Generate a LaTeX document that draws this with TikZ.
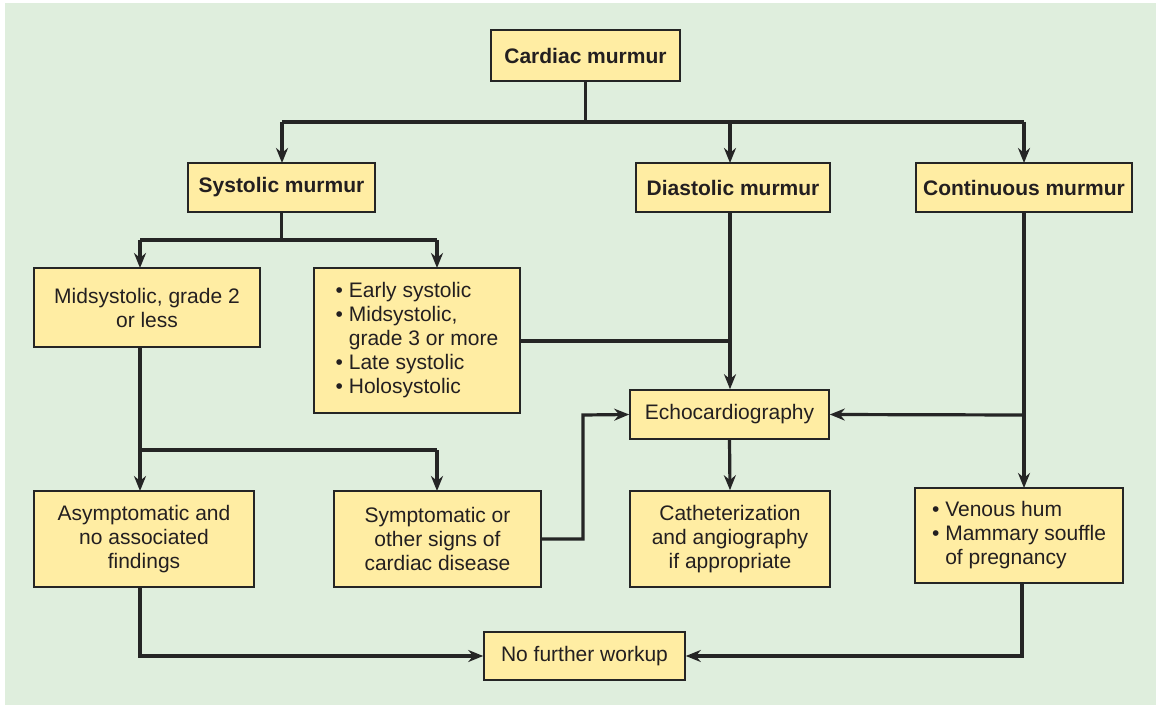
\documentclass[tikz,border=0pt]{standalone}
\usepackage{fontspec}
\setmainfont{Liberation Sans}
\usetikzlibrary{arrows.meta,positioning,calc}
\definecolor{cmInk}{HTML}{231F20}
\definecolor{cmLine}{HTML}{252525}
\definecolor{cmBoxFill}{HTML}{FFEDA3}
\definecolor{cmPanel}{HTML}{DFEEDD}
\tikzset{
  cmBox/.style={draw=cmLine,line width=1.6pt,fill=cmBoxFill,text=cmInk,align=center,
    inner sep=0pt,font=\fontsize{21}{24}\selectfont},
  cmHead/.style={cmBox,font=\fontsize{21}{24}\selectfont\bfseries},
  cmEdge/.style={draw=cmLine,line width=3.2pt}
}
\newcommand{\bl}{\textbullet\ }
\newcommand{\blin}{\phantom{\textbullet\ }}
\begin{document}
\begin{tikzpicture}[x=1pt,y=-1pt,
  arrow/.style={cmEdge,-{Stealth[length=15pt,width=12pt]}}]
\useasboundingbox (0,0) rectangle (1161,708);
\fill[cmPanel] (5,3) rectangle (1156,705);

% top level
\node[cmHead,minimum width=189pt,minimum height=51pt] (cardiac) at (585.5,55.5) {Cardiac murmur};
\node[cmHead,minimum width=187pt,minimum height=49pt] (systolic) at (281.5,187.5) {Systolic murmur};
\node[cmHead,minimum width=194pt,minimum height=49pt] (diastolic) at (733,187.5) {Diastolic murmur};
\node[cmHead,minimum width=216pt,minimum height=49pt] (continuous) at (1024,187.5) {Continuous murmur};

% systolic branches
\node[cmBox,minimum width=226pt,minimum height=79pt] (midsys) at (147,307.5)
  {Midsystolic, grade 2\\or less};
\node[cmBox,minimum width=206pt,minimum height=145pt,align=left] (early) at (417,340.5)
  {\bl Early systolic\\\bl Midsystolic,\\\blin grade 3 or more\\\bl Late systolic\\\bl Holosystolic};
\node[cmBox,minimum width=199pt,minimum height=49pt] (echo) at (729.5,414.5) {Echocardiography};

% lower row
\node[cmBox,minimum width=220pt,minimum height=96pt] (asym) at (144,539)
  {Asymptomatic and\\no associated\\findings};
\node[cmBox,minimum width=207pt,minimum height=96pt] (sym) at (437.5,539)
  {Symptomatic or\\other signs of\\cardiac disease};
\node[cmBox,minimum width=200pt,minimum height=96pt] (cath) at (730,539)
  {Catheterization\\and angiography\\if appropriate};
\node[cmBox,minimum width=208pt,minimum height=95pt,align=left] (venous) at (1019,535.5)
  {\bl Venous hum\\\bl Mammary souffle\\\blin of pregnancy};
\node[cmBox,minimum width=201pt,minimum height=48pt] (nowork) at (584.5,656) {No further workup};

% helper coordinates
\coordinate (topbus) at (0,122);
\coordinate (sysbus) at (0,240);
\coordinate (midbus) at (0,450);

% connectors
\draw[cmEdge] (cardiac.south) -- (cardiac.south |- topbus);
\draw[cmEdge] (282,122) -- (1024,122);
\draw[arrow] (282,122) -- (282,163);
\draw[arrow] (730,122) -- (730,163);
\draw[arrow] (1024,122) -- (1024,163);

\draw[cmEdge] (systolic.south) -- (systolic.south |- sysbus);
\draw[cmEdge] (140,240) -- (437,240);
\draw[arrow] (140,240) -- (140,268);
\draw[arrow] (437,240) -- (437,268);

\draw[arrow] (730,212) -- (echo.north -| 730,0);
\draw[cmEdge] (early.east |- 0,341) -- (730,341);

\draw[arrow] (1024,212) -- (1024,488);
\draw[arrow] (1024,415) -- (echo.east);

\draw[cmEdge] (140,347) -- (140,450) -- (437,450);
\draw[arrow] (140,450) -- (140,491);
\draw[arrow] (437,450) -- (437,491);

\draw[arrow] (sym.east |- 0,539) -- (583,539) -- (583,415) -- (echo.west);
\draw[arrow] (echo.south) -- (cath.north);

\draw[arrow] (140,587) -- (140,656) -- (nowork.west);
\draw[arrow] (1022,583) -- (1022,656) -- (nowork.east);
\end{tikzpicture}
\end{document}
